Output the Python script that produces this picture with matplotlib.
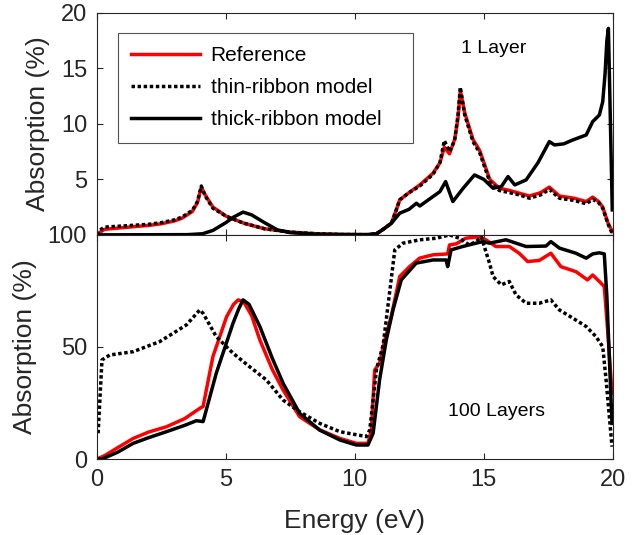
import matplotlib
matplotlib.use("Agg")
import matplotlib.pyplot as plt

plt.rcParams["font.family"] = ["Liberation Sans", "DejaVu Sans"]

# ---------------- 1 layer (top panel) ----------------
x_ref1 = [0, 0.1, 0.3, 1, 2, 2.5, 3, 3.3, 3.7, 3.9, 4.05, 4.2, 4.5, 5.0, 5.2, 5.7, 6.5, 7.5,
          8.5, 9.5, 10.5, 10.84, 11.1, 11.42, 11.6, 11.74, 12.1, 12.52, 13.03, 13.3, 13.47,
          13.67, 13.87, 14.0, 14.09, 14.26, 14.58, 14.84, 15.23, 15.6, 16.0, 16.38, 16.77,
          17.2, 17.54, 17.93, 18.5, 18.97, 19.22, 19.45, 19.61, 19.81, 19.98]
ref1 = [0, 0.2, 0.5, 0.65, 0.85, 1.0, 1.25, 1.5, 2.1, 2.9, 4.3, 3.6, 2.5, 1.7, 1.5, 1.05, 0.55,
        0.25, 0.1, 0.03, 0.02, 0.1, 0.5, 1.05, 2.2, 3.15, 3.8, 4.5, 5.55, 6.5, 7.9, 7.3, 8.6,
        10.5, 13.0, 11.0, 8.6, 7.6, 5.0, 4.2, 4.0, 3.75, 3.5, 3.8, 4.3, 3.5, 3.3, 3.0, 3.4,
        3.0, 2.5, 1.1, 0.3]
thin1 = [0, 0.4, 0.7, 0.8, 0.95, 1.1, 1.35, 1.6, 2.2, 3.0, 4.4, 3.5, 2.4, 1.7, 1.5, 1.05, 0.55,
         0.25, 0.1, 0.03, 0.02, 0.1, 0.5, 1.05, 2.2, 3.15, 3.8, 4.4, 5.45, 6.5, 8.5, 7.5, 8.5,
         10.8, 13.3, 10.8, 8.4, 7.4, 4.8, 4.0, 3.8, 3.6, 3.3, 3.6, 4.1, 3.3, 3.1, 2.8, 3.2,
         2.9, 2.4, 1.0, 0.1]
x_thick1 = [0, 3.5, 4.1, 4.5, 5.0, 5.3, 5.67, 6.0, 6.5, 7.0, 7.5, 8.5, 10.5, 10.84, 11.1,
            11.42, 11.74, 12.1, 12.39, 12.52, 13.03, 13.3, 13.52, 13.8, 14.2, 14.64, 15.0,
            15.36, 15.68, 15.94, 16.2, 16.64, 17.1, 17.54, 17.74, 18.1, 18.45, 18.97, 19.22,
            19.48, 19.61, 19.7, 19.77, 19.83, 19.98]
thick1 = [0, 0.02, 0.1, 0.4, 1.1, 1.6, 2.05, 1.8, 1.1, 0.45, 0.2, 0.05, 0.02, 0.1, 0.5, 1.05,
          1.95, 2.3, 2.85, 2.6, 3.45, 3.9, 4.8, 3.0, 4.2, 5.4, 5.0, 4.2, 4.35, 5.25, 4.5, 4.95,
          6.5, 8.4, 8.1, 8.2, 8.55, 9.0, 10.2, 10.8, 12.0, 14.5, 17.5, 18.6, 2.25]

# ---------------- 100 layers (bottom panel) ----------------
x_ref100 = [0, 0.3, 0.8, 1.41, 2.0, 2.7, 3.4, 3.99, 4.12, 4.5, 5.03, 5.3, 5.48, 5.7, 6.0, 6.32,
            6.8, 7.22, 7.86, 8.64, 9.42, 10.06, 10.51, 10.64, 10.77, 10.96, 11.16, 11.41, 11.74,
            12.12, 12.51, 13.03, 13.6, 13.67, 13.93, 14.3, 14.82, 15.08, 15.47, 15.99, 16.37,
            16.7, 17.15, 17.6, 17.99, 18.57, 19.02, 19.22, 19.48, 19.67, 19.8, 19.97]
ref100 = [0, 1.5, 5, 9.2, 12, 14.4, 18, 22.6, 23.5, 45.7, 63.5, 69, 71, 70, 64, 53.1, 40, 30.8,
          18.9, 13, 9.2, 7.0, 7.0, 12.9, 39.7, 42.8, 53.1, 63.5, 81.4, 85.8, 89.6, 91.1, 91.5,
          95.5, 96, 98.5, 99.2, 97.8, 94.8, 94.8, 91.8, 88.1, 88.6, 91.8, 85.8, 83.6, 79.9,
          82.1, 79.2, 76.9, 57.6, 29.3]
x_thick100 = [0, 0.2, 0.8, 1.41, 2.0, 2.7, 3.4, 3.86, 4.12, 4.63, 5.28, 5.5, 5.67, 5.9, 6.32,
              6.8, 7.22, 7.86, 8.64, 9.42, 10.06, 10.51, 10.71, 10.96, 11.22, 11.48, 11.8,
              12.38, 13.03, 13.54, 13.6, 13.73, 14.18, 14.7, 14.96, 15.22, 15.86, 16.64,
              17.41, 17.6, 17.93, 18.57, 18.97, 19.22, 19.48, 19.67, 19.77, 19.97]
thick100 = [0, 0, 3, 7.0, 9.5, 12.2, 15, 17.1, 16.7, 38.3, 60.6, 67, 71, 69, 59.1, 45, 33.8,
            20.4, 12.9, 8.5, 6.25, 6.25, 11.5, 35.3, 53.1, 66.5, 79.9, 87.4, 88.8, 88.8, 85.8,
            93.3, 94.8, 96.3, 97, 96.3, 97.8, 94.8, 95, 97, 94.1, 91.8, 89.6, 91.5, 92, 91.5,
            72.5, 15.9]
x_thin100 = [0.05, 0.2, 0.5, 1.41, 2.44, 3.47, 3.99, 4.12, 4.63, 5.28, 5.92, 6.57, 7.22, 7.86,
             8.64, 9.42, 10.45, 10.58, 10.84, 11.1, 11.36, 11.55, 11.87, 12.52, 13.16, 13.67,
             14.05, 14.44, 14.7, 14.9, 15.22, 15.36, 15.68, 15.99, 16.25, 16.64, 17.15, 17.6,
             17.93, 18.57, 18.97, 19.35, 19.61, 19.74, 19.97]
thin100 = [11.5, 44.2, 46.4, 47.9, 52.4, 59.8, 66.5, 65, 54.6, 47.2, 41.2, 35.3, 26.3, 21.1,
           15.9, 12.2, 10, 13, 40, 51, 75.4, 93.3, 96.3, 97.8, 98.5, 100, 98.5, 95.5, 97, 99.2,
           87.4, 81.4, 77.7, 79.2, 73.2, 69.5, 69.5, 71, 66.5, 62, 59.1, 54.6, 50.1, 35.3, 5.5]

AX_COL = "#262626"
LW = 2.5
DOT = (0, (1, 0.75))

fig = plt.figure(figsize=(6.37, 5.35), dpi=100)
ax1 = fig.add_axes([0.152, 0.561, 0.81, 0.415])
ax2 = fig.add_axes([0.152, 0.142, 0.81, 0.419])

for ax in (ax1, ax2):
    ax.set_xlim(0, 20)
    ax.set_xticks([0, 5, 10, 15, 20])
    ax.tick_params(direction="in", top=True, right=True, labelsize=17,
                   colors=AX_COL, length=4, width=0.8, pad=7)
    for s in ax.spines.values():
        s.set_color(AX_COL)
        s.set_linewidth(0.8)

# top panel
ax1.plot(x_ref1, ref1, color="red", lw=LW, label="Reference")
ax1.plot(x_ref1, thin1, color="black", lw=LW, linestyle=DOT, label="thin-ribbon model")
ax1.plot(x_thick1, thick1, color="black", lw=LW, label="thick-ribbon model")
ax1.set_ylim(0, 20)
ax1.set_yticks([0, 5, 10, 15, 20])
ax1.set_yticklabels(["", "5", "10", "15", "20"])  # the 0 sits under the lower panel's 100
ax1.tick_params(labelbottom=False)
ax1.set_ylabel("Absorption (%)", fontsize=19, color=AX_COL, labelpad=8)
ax1.text(15.4, 16.8, "1 Layer", fontsize=14, ha="center", va="center")
leg = ax1.legend(loc="upper left", bbox_to_anchor=(0.0407, 0.0, 0.572, 0.91),
                 mode="expand", borderaxespad=0, fontsize=15, frameon=True,
                 fancybox=False, handlelength=3.3, labelspacing=0.62, borderpad=0.65,
                 handletextpad=0.5)
leg.get_frame().set_edgecolor(AX_COL)
leg.get_frame().set_linewidth(0.8)

# bottom panel
ax2.plot(x_ref100, ref100, color="red", lw=LW)
ax2.plot(x_thin100, thin100, color="black", lw=LW, linestyle=DOT)
ax2.plot(x_thick100, thick100, color="black", lw=LW)
ax2.set_ylim(0, 100)
ax2.set_yticks([0, 50, 100])
ax2.set_ylabel("Absorption (%)", fontsize=19, color=AX_COL, labelpad=8)
ax2.set_xlabel("Energy (eV)", fontsize=19, color=AX_COL, labelpad=13)
ax2.text(15.5, 21, "100 Layers", fontsize=14, ha="center", va="center")

fig.savefig("out.png", dpi=100)
